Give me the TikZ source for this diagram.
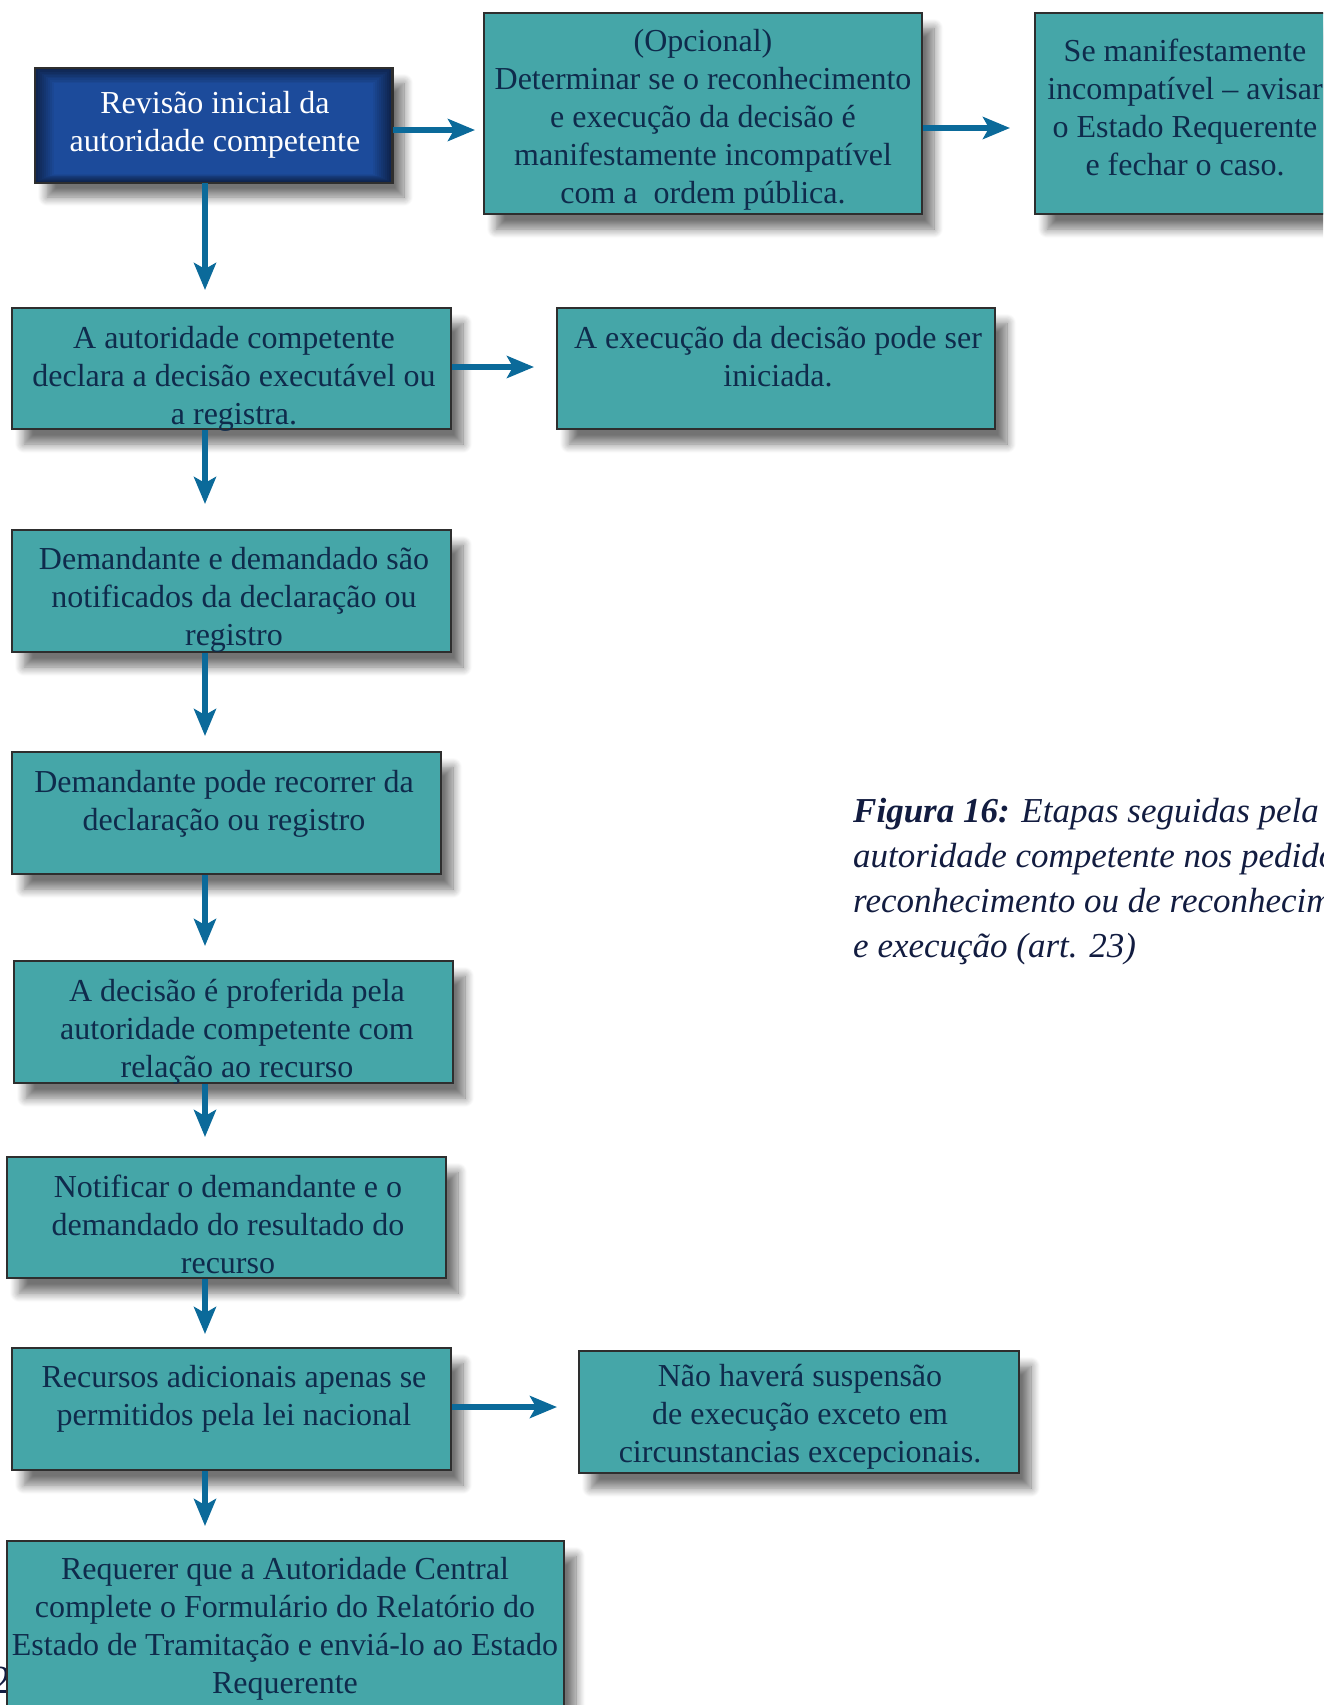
\documentclass[tikz,border=0pt]{standalone}
\usepackage{fontspec}
\setmainfont{Liberation Serif}
\usetikzlibrary{arrows.meta,shadows.blur}
\definecolor{boxteal}{HTML}{45A6A8}
\definecolor{txtnavy}{HTML}{0F2B4C}
\definecolor{arrowblue}{HTML}{0B6A9A}
\definecolor{edgegray}{HTML}{2E2E2E}
\definecolor{glowin}{HTML}{1C4B9B}
\definecolor{glowout}{HTML}{0D2148}
\definecolor{capnavy}{HTML}{121C40}
\tikzset{
  tbox/.style={rectangle, draw=edgegray, line width=2pt, fill=boxteal, inner sep=0pt,
    blur shadow={shadow xshift=12pt, shadow yshift=-15pt, shadow blur radius=9pt, shadow blur steps=10, shadow opacity=55}},
  btext/.style={align=center, inner sep=0pt, text=txtnavy, font=\fontsize{32pt}{38pt}\selectfont},
  arr/.style={draw=arrowblue, line width=5.5pt, -{Stealth[length=27pt, width=22pt, inset=6pt]}},
}
\begin{document}
\begin{tikzpicture}[x=1pt, y=-1pt]
\useasboundingbox (0,0) rectangle (1323,1705);
\clip (0,0) rectangle (1323,1705);
\coordinate (ax) at (205,0);
\coordinate (ay1) at (0,130);
\coordinate (ay2) at (0,128);
\coordinate (ay3) at (0,367);
\coordinate (ay4) at (0,1407);

% page number fragment
\node[anchor=base east, inner sep=0pt, text=capnavy, font=\fontsize{40pt}{40pt}\selectfont] (pg) at (12,1693) {2};

% boxes
\node[tbox, fill=glowout, draw=edgegray, line width=1.5pt, minimum width=357pt, minimum height=114pt] (b1) at (213.5,125) {};
\foreach \i in {1,...,10} {
  \fill[glowin!\i0!glowout] ([shift={(\i*2pt,-\i*1.6pt)}]b1.north west) rectangle ([shift={(-\i*2pt,\i*0.9pt)}]b1.south east);
}
\draw[edgegray, line width=1.5pt] (b1.north west) rectangle (b1.south east);

\node[tbox, minimum width=438pt, minimum height=201pt] (b2) at (703,113.5) {};
\node[tbox, minimum width=300pt, minimum height=201pt] (b3) at (1185,113.5) {};
\node[tbox, minimum width=439pt, minimum height=121pt] (b4) at (231.5,368.5) {};
\node[tbox, minimum width=438pt, minimum height=121pt] (b5) at (776,368.5) {};
\node[tbox, minimum width=439pt, minimum height=122pt] (b6) at (231.5,591) {};
\node[tbox, minimum width=429pt, minimum height=122pt] (b7) at (226.5,813) {};
\node[tbox, minimum width=439pt, minimum height=122pt] (b8) at (233.5,1022) {};
\node[tbox, minimum width=439pt, minimum height=121pt] (b9) at (226.5,1217.5) {};
\node[tbox, minimum width=439pt, minimum height=122pt] (b10) at (231.5,1409) {};
\node[tbox, minimum width=440pt, minimum height=122pt] (b11) at (799,1412) {};
\node[tbox, minimum width=557pt, minimum height=184pt] (b12) at (285.5,1633) {};

% connectors
\draw[arr, shorten >=8pt] (b1.east |- ay1) -- (b2.west |- ay1);
\draw[arr, shorten >=24pt] (b2.east |- ay2) -- (b3.west |- ay2);
\draw[arr, shorten >=22pt] (b4.east |- ay3) -- (b5.west |- ay3);
\draw[arr, shorten >=21pt] (b10.east |- ay4) -- (b11.west |- ay4);
\draw[arr, shorten >=17pt] (b1.south -| ax) -- (b4.north -| ax);
\draw[arr, shorten >=25pt] (b4.south -| ax) -- (b6.north -| ax);
\draw[arr, shorten >=15pt] (b6.south -| ax) -- (b7.north -| ax);
\draw[arr, shorten >=14pt] (b7.south -| ax) -- (b8.north -| ax);
\draw[arr, shorten >=19pt] (b8.south -| ax) -- (b9.north -| ax);
\draw[arr, shorten >=13pt] (b9.south -| ax) -- (b10.north -| ax);
\draw[arr, shorten >=14pt] (b10.south -| ax) -- (b12.north -| ax);

% texts
\node[btext, text=white] (t1) at (215,125) {Revisão inicial da\\autoridade competente};
\node[btext] (t2) at (703,120) {(Opcional)\\Determinar se o reconhecimento\\e execução da decisão é\\manifestamente incompatível\\com a \ ordem pública.};
\node[btext] (t3) at (1185,107) {Se manifestamente\\incompatível – avisar\\o Estado Requerente\\e fechar o caso.};
\node[btext] (t4) at (234,379) {A autoridade competente\\declara a decisão executável ou\\a registra.};
\node[btext] (t5) at (778,357) {A execução da decisão pode ser\\iniciada.};
\node[btext] (t6) at (234,600) {Demandante e demandado são\\notificados da declaração ou\\registro};
\node[btext] (t7) at (224,804) {Demandante pode recorrer da\\declaração ou registro};
\node[btext] (t8) at (237,1032) {A decisão é proferida pela\\autoridade competente com\\relação ao recurso};
\node[btext] (t9) at (228,1224) {Notificar o demandante e o\\demandado do resultado do\\recurso};
\node[btext] (t10) at (234,1399) {Recursos adicionais apenas se\\permitidos pela lei nacional};
\node[btext] (t11) at (800,1417) {Não haverá suspensão\\de execução exceto em\\circunstancias excepcionais.};
\node[btext] (t12) at (285,1629) {Requerer que a Autoridade Central\\complete o Formulário do Relatório do\\Estado de Tramitação e enviá-lo ao Estado\\Requerente};

% caption
\node[anchor=west, align=left, inner sep=0pt, text=capnavy, font=\fontsize{35pt}{45pt}\selectfont\itshape] (cap) at (853,882)
 {\textbf{Figura 16:} Etapas seguidas pela\\autoridade competente nos pedidos de\\reconhecimento ou de reconhecimento\\e execução (art. 23)};
\end{tikzpicture}
\end{document}
